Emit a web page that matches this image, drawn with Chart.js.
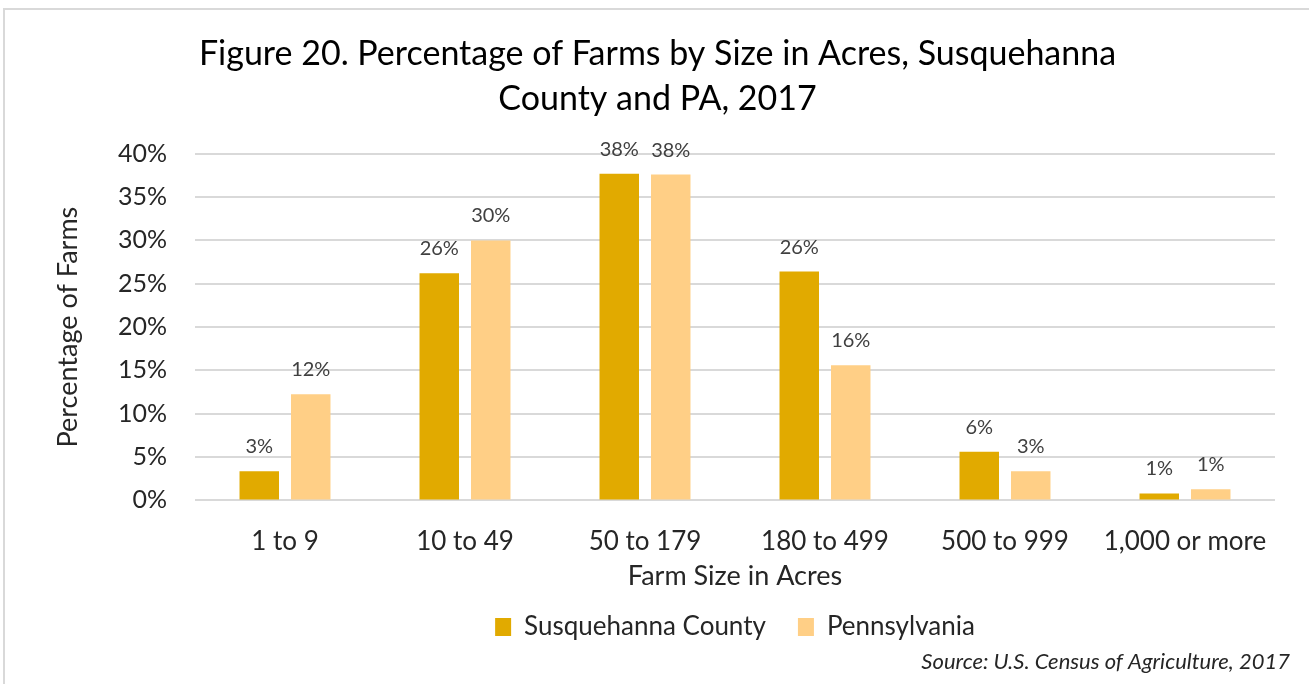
<!DOCTYPE html>
<html>
<head>
<meta charset="utf-8">
<script src="https://cdn.jsdelivr.net/npm/chart.js@4.4.0/dist/chart.umd.min.js"></script>
<style>
  html,body{margin:0;padding:0;background:#fff;overflow:hidden;}
  #wrap{position:relative;width:1309px;height:684px;}
  #frame{position:absolute;left:3px;top:8px;width:1320px;height:700px;border:2px solid #d9d9d9;pointer-events:none;}
</style>
</head>
<body>
<div id="wrap">
  <canvas id="mainChart" width="1309" height="684"></canvas>
  <div id="frame"></div>
</div>
<script>
"use strict";
// categories (farm size)
const sizeLabels=["1 to 9","10 to 49","50 to 179","180 to 499","500 to 999","1,000 or more"];
// percentages
const susquehannaValues=[3.35,26.2,37.7,26.4,5.6,0.8];
const pennsylvaniaValues=[12.25,30.0,37.6,15.6,3.35,1.3];
const seriesNames=["Susquehanna County","Pennsylvania"];
const titleLines=["Figure 20. Percentage of Farms by Size in Acres, Susquehanna","County and PA, 2017"];
const sourceText="Source: U.S. Census of Agriculture, 2017";

const FONT="Lato, 'Open Sans', sans-serif";
const TEXT="#262626";

//数值标签
const valueLabels={
    id:"valueLabels",
    afterDatasetsDraw(chart){
        const ctx=chart.ctx;
        ctx.save();
        ctx.font="20px "+FONT;
        ctx.fillStyle="#404040";
        ctx.textAlign="center";
        ctx.textBaseline="alphabetic";
        chart.data.datasets.forEach((ds,i)=>{
            chart.getDatasetMeta(i).data.forEach((bar,j)=>{
                ctx.fillText(Math.round(ds.data[j])+"%",bar.x,bar.y-18);
            });
        });
        ctx.restore();
    }
};
//来源
const sourceNote={
    id:"sourceNote",
    afterDraw(chart){
        const ctx=chart.ctx;
        ctx.save();
        ctx.font="italic 22px "+FONT;
        ctx.fillStyle=TEXT;
        ctx.textAlign="right";
        ctx.textBaseline="middle";
        ctx.fillText(sourceText,1290,662);
        ctx.restore();
    }
};

const data={
    labels:sizeLabels,
    datasets:[{
        label:seriesNames[0],
        data:susquehannaValues,
        backgroundColor:"#E1AA00"
    },{
        label:seriesNames[1],
        data:pennsylvaniaValues,
        backgroundColor:"#FFCF86"
    }]
};
const options={
    responsive:false,
    animation:false,
    layout:{padding:{left:40,right:34,top:0,bottom:34}},
    datasets:{bar:{categoryPercentage:0.572,barPercentage:0.767}},
    scales:{
        x:{
            grid:{display:false},
            border:{display:false},
            ticks:{color:TEXT,font:{family:FONT,size:26},padding:18},
            title:{display:true,text:"Farm Size in Acres",color:TEXT,font:{family:FONT,size:27},padding:{top:-16,bottom:-10}}
        },
        y:{
            min:0,max:40,
            grid:{color:"#d9d9d9",lineWidth:2,drawTicks:false},
            border:{display:false},
            ticks:{stepSize:5,color:TEXT,font:{family:FONT,size:25},padding:28,callback:v=>v+"%"},
            title:{display:true,text:"Percentage of Farms",color:TEXT,font:{family:FONT,size:27},padding:{top:12,bottom:0}},
            afterFit(scale){scale.width=155;}
        }
    },
    plugins:{
        title:{
            display:true,
            text:titleLines,
            color:"#000",
            font:{family:FONT,size:34,weight:"normal",lineHeight:1.32},
            padding:{top:32,bottom:32}
        },
        legend:{
            position:"bottom",
            fullSize:false,
            labels:{color:TEXT,font:{family:FONT,size:26},boxWidth:16,boxHeight:18,padding:32}
        },
        tooltip:{enabled:false}
    }
};
new Chart(document.getElementById("mainChart"),{type:"bar",data,options,plugins:[valueLabels,sourceNote]});
</script>
</body>
</html>
